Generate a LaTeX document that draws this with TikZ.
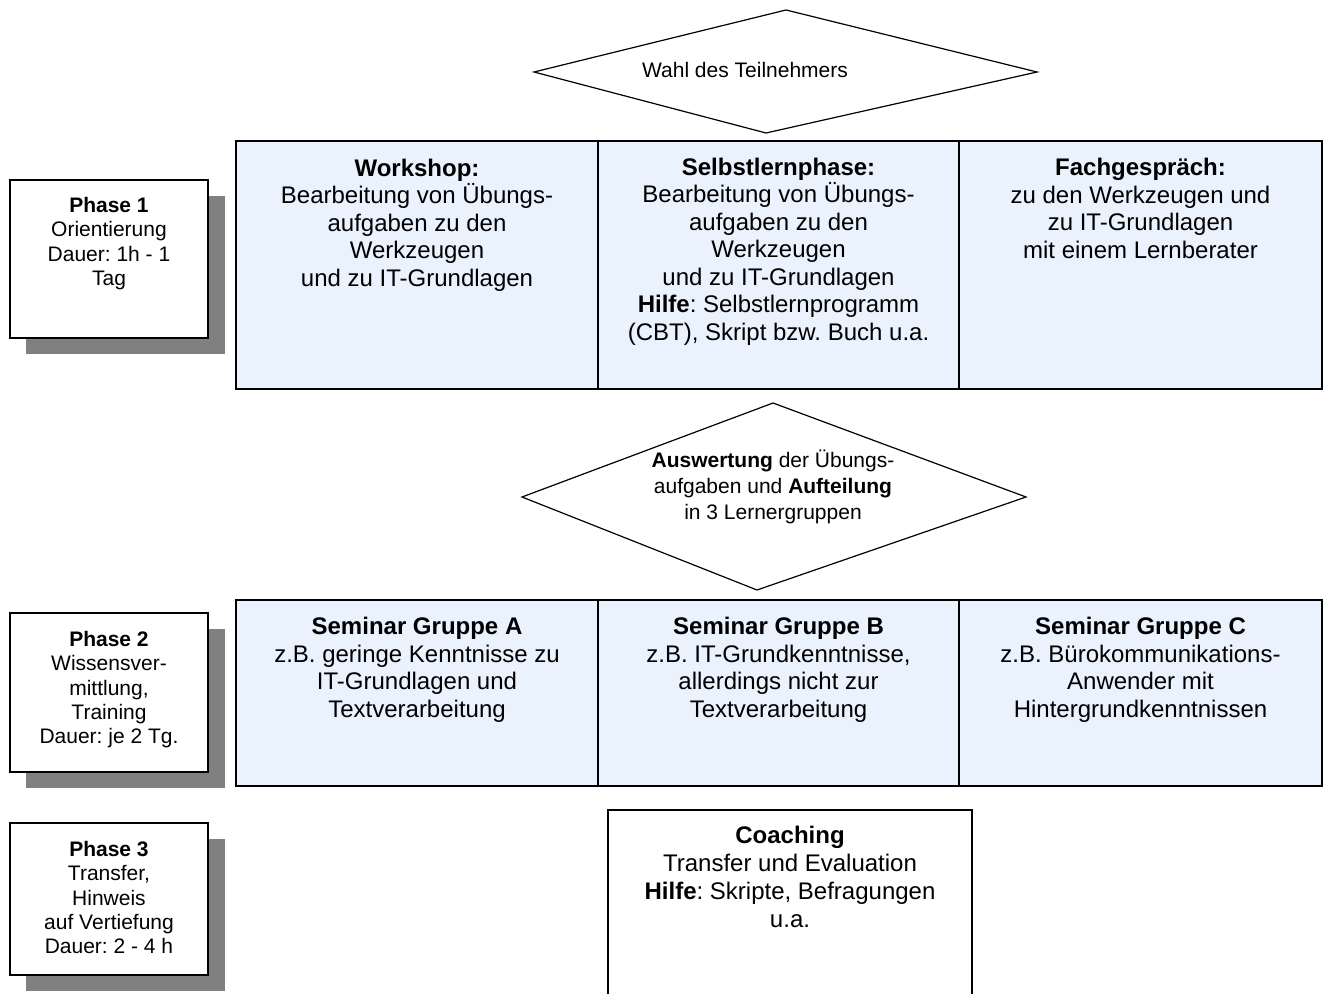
\documentclass[tikz,border=0pt]{standalone}
\usepackage{fontspec}
\setmainfont{Liberation Sans}
\frenchspacing
\definecolor{cellblue}{RGB}{234,242,254}
\definecolor{shadowgray}{RGB}{128,128,128}
\begin{document}
\begin{tikzpicture}[x=0.5pt,y=-0.5pt,
  cell/.style={draw=black,line width=0.9pt,fill=cellblue},
  phasebox/.style={draw=black,line width=0.9pt,fill=white},
  shadowbox/.style={fill=shadowgray,draw=none},
  decision/.style={draw=black,line width=0.6pt,fill=white},
  bigtext/.style={anchor=north,inner sep=0pt,align=center,font=\fontsize{12}{13.75}\selectfont\frenchspacing},
  coachtext/.style={anchor=north,inner sep=0pt,align=center,font=\fontsize{12}{14}\selectfont\frenchspacing},
  smalltext/.style={anchor=north,inner sep=0pt,align=center,font=\fontsize{10.5}{12.15}\selectfont\frenchspacing},
  dtext/.style={anchor=north,inner sep=0pt,align=center,font=\fontsize{10.5}{13}\selectfont\frenchspacing}]
\clip (0,0) rectangle (1327,994);
\fill[white] (0,0) rectangle (1327,994);

% decision 1
\draw[decision] (534,72) -- (786,10) -- (1037,72) -- (766,133) -- cycle;
\node[dtext] (wahl) at (745,62) {Wahl des Teilnehmers};

% phase boxes with shadows
\fill[shadowbox] (26,196) rectangle (225,354);
\draw[phasebox] (10,180) rectangle (208,338);
\node[smalltext] (p1) at (109,197) {\textbf{Phase 1}\\Orientierung\\Dauer: 1h - 1\\Tag};

\fill[shadowbox] (26,629) rectangle (225,788);
\draw[phasebox] (10,613) rectangle (208,772);
\node[smalltext] (p2) at (109,631) {\textbf{Phase 2}\\Wissensver-\\mittlung,\\Training\\Dauer: je 2 Tg.};

\fill[shadowbox] (26,839) rectangle (225,991);
\draw[phasebox] (10,823) rectangle (208,975);
\node[smalltext] (p3) at (109,841) {\textbf{Phase 3}\\Transfer,\\Hinweis\\auf Vertiefung\\Dauer: 2 - 4 h};

% table row 1
\draw[cell] (236,141) rectangle (598,389);
\draw[cell] (598,141) rectangle (959,389);
\draw[cell] (959,141) rectangle (1322,389);
\node[bigtext] (ws) at (417,158.5) {\textbf{Workshop:}\\Bearbeitung von Übungs-\\aufgaben zu den\\Werkzeugen\\und zu IT-Grundlagen};
\node[bigtext] (sl) at (778.5,157.5) {\textbf{Selbstlernphase:}\\Bearbeitung von Übungs-\\aufgaben zu den\\Werkzeugen\\und zu IT-Grundlagen\\\textbf{Hilfe}: Selbstlernprogramm\\(CBT), Skript bzw. Buch u.a.};
\node[bigtext] (fg) at (1140.5,158) {\textbf{Fachgespräch:}\\zu den Werkzeugen und\\zu IT-Grundlagen\\mit einem Lernberater};

% decision 2
\draw[decision] (522,497) -- (773,403) -- (1026,497) -- (757,590) -- cycle;
\node[dtext] (ausw) at (773,450) {\textbf{Auswertung} der Übungs-\\aufgaben und \textbf{Aufteilung}\\in 3 Lernergruppen};

% table row 2
\draw[cell] (236,600) rectangle (598,786);
\draw[cell] (598,600) rectangle (959,786);
\draw[cell] (959,600) rectangle (1322,786);
\node[bigtext] (ga) at (417,617) {\textbf{Seminar Gruppe A}\\z.B. geringe Kenntnisse zu\\IT-Grundlagen und\\Textverarbeitung};
\node[bigtext] (gb) at (778.5,617) {\textbf{Seminar Gruppe B}\\z.B. IT-Grundkenntnisse,\\allerdings nicht zur\\Textverarbeitung};
\node[bigtext] (gc) at (1140.5,617) {\textbf{Seminar Gruppe C}\\z.B. Bürokommunikations-\\Anwender mit\\Hintergrundkenntnissen};

% coaching
\draw[phasebox] (608,810) rectangle (972,1010);
\node[coachtext] (coach) at (790,825.5) {\textbf{Coaching}\\Transfer und Evaluation\\\textbf{Hilfe}: Skripte, Befragungen\\u.a.};
\end{tikzpicture}
\end{document}
